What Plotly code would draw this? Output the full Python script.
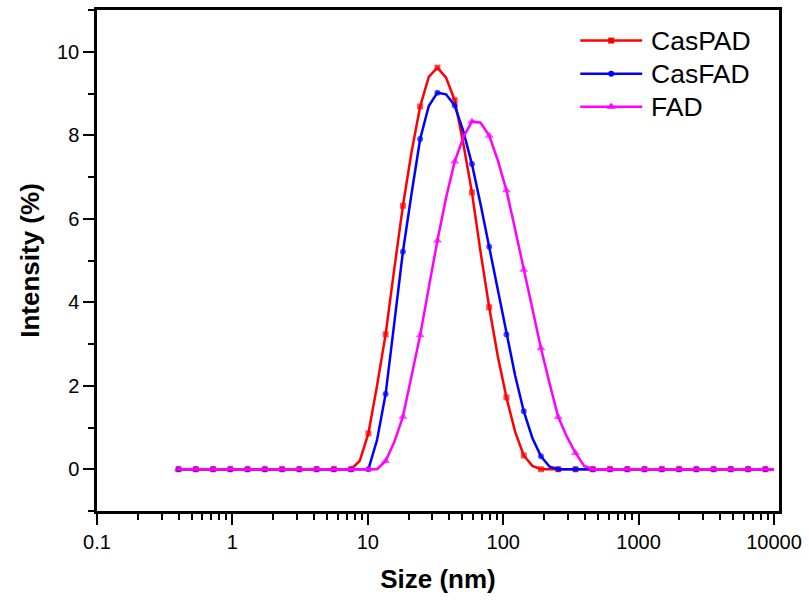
import plotly.graph_objects as go

# Size bins (nm) of the DLS intensity distribution
sizes_nm = [
    0.4, 0.4632, 0.5365, 0.6213, 0.7195, 0.8332, 0.9649, 1.117, 1.294, 1.499,
    1.736, 2.010, 2.328, 2.696, 3.122, 3.615, 4.187, 4.849, 5.615, 6.503,
    7.531, 8.721, 10.10, 11.70, 13.54, 15.69, 18.17, 21.04, 24.36, 28.21,
    32.67, 37.84, 43.82, 50.75, 58.77, 68.06, 78.82, 91.28, 105.7, 122.4,
    141.8, 164.2, 190.1, 220.2, 255.0, 295.3, 342.0, 396.1, 458.7, 531.2,
    615.1, 712.4, 825.0, 955.4, 1106, 1281, 1484, 1718, 1990, 2305,
    2669, 3091, 3580, 4145, 4801, 5560, 6439, 7456, 8635, 10000,
]

# Intensity (%) per bin
caspad = [
    0, 0, 0, 0, 0, 0, 0, 0, 0, 0,
    0, 0, 0, 0, 0, 0, 0, 0, 0, 0,
    0, 0.2, 0.86, 2.0, 3.23, 4.8, 6.31, 7.6, 8.69, 9.4,
    9.62, 9.38, 8.84, 7.8, 6.63, 5.2, 3.88, 2.7, 1.72, 0.9,
    0.33, 0.08, 0, 0, 0, 0, 0, 0, 0, 0,
    0, 0, 0, 0, 0, 0, 0, 0, 0, 0,
    0, 0, 0, 0, 0, 0, 0, 0, 0, 0,
]
casfad = [
    0, 0, 0, 0, 0, 0, 0, 0, 0, 0,
    0, 0, 0, 0, 0, 0, 0, 0, 0, 0,
    0, 0, 0, 0.7, 1.8, 3.5, 5.21, 6.6, 7.91, 8.7,
    9.02, 8.98, 8.71, 8.1, 7.31, 6.35, 5.33, 4.3, 3.23, 2.25,
    1.39, 0.75, 0.31, 0.06, 0, 0, 0, 0, 0, 0,
    0, 0, 0, 0, 0, 0, 0, 0, 0, 0,
    0, 0, 0, 0, 0, 0, 0, 0, 0, 0,
]
fad = [
    0, 0, 0, 0, 0, 0, 0, 0, 0, 0,
    0, 0, 0, 0, 0, 0, 0, 0, 0, 0,
    0, 0, 0, 0, 0.2, 0.65, 1.26, 2.2, 3.21, 4.35,
    5.48, 6.5, 7.37, 7.95, 8.33, 8.3, 7.99, 7.4, 6.68, 5.75,
    4.78, 3.85, 2.9, 2.05, 1.25, 0.78, 0.39, 0.08, 0, 0,
    0, 0, 0, 0, 0, 0, 0, 0, 0, 0,
    0, 0, 0, 0, 0, 0, 0, 0, 0, 0,
]

series_names = ["CasPAD", "CasFAD", "FAD"]
series_values = [caspad, casfad, fad]

x_tick_values = [0.1, 1, 10, 100, 1000, 10000]
x_tick_labels = ["0.1", "1", "10", "100", "1000", "10000"]

# ---- styling ----
FONT = "Arial, 'Liberation Sans', sans-serif"
colors = ["#ff0000", "#0000ff", "#ff00ff"]
symbols = ["square", "circle", "triangle-up"]
marker_sizes = [6, 6, 8]
LINE_W = 2.5

fig = go.Figure()

for name, ys, color, sym, ms in zip(series_names, series_values, colors, symbols, marker_sizes):
    # a marker on every second point
    per_point = [ms if i % 2 == 0 else 0 for i in range(len(ys))]
    fig.add_trace(go.Scatter(
        x=sizes_nm, y=ys, name=name, mode="lines+markers",
        line=dict(color=color, width=LINE_W),
        marker=dict(symbol=sym, size=per_point, color=color, line=dict(width=0)),
        showlegend=False, hoverinfo="skip",
    ))

# Legend keys drawn on an overlay axis spanning the plot area (0..1 in both directions)
key_x0, key_x1, key_xm = 0.7086, 0.7994, 0.754
key_rows = [0.939, 0.873, 0.807]
text_x = 0.8097
for name, color, sym, ms, yk in zip(series_names, colors, symbols, marker_sizes, key_rows):
    fig.add_trace(go.Scatter(
        x=[key_x0, key_x1], y=[yk, yk], mode="lines",
        line=dict(color=color, width=LINE_W),
        xaxis="x2", yaxis="y2", showlegend=False, hoverinfo="skip",
    ))
    fig.add_trace(go.Scatter(
        x=[key_xm], y=[yk], mode="markers",
        marker=dict(symbol=sym, size=ms, color=color, line=dict(width=0)),
        xaxis="x2", yaxis="y2", showlegend=False, hoverinfo="skip",
    ))
    fig.add_annotation(
        x=text_x, y=yk, xref="x2", yref="y2", text=name, showarrow=False,
        xanchor="left", yanchor="middle", font=dict(family=FONT, size=26.5, color="black"),
    )

minor_x = [m * 10 ** e for e in range(-1, 4) for m in range(2, 10)]

axis_common = dict(
    showline=True, linecolor="black", linewidth=LINE_W, mirror=True,
    ticks="outside", ticklen=11, tickwidth=2, tickcolor="black",
    tickfont=dict(family=FONT, size=20, color="black"),
    showgrid=False, zeroline=False,
)

fig.update_layout(
    width=809, height=601,
    margin=dict(l=97, r=29, t=7, b=90, pad=0),
    paper_bgcolor="white", plot_bgcolor="white",
    font=dict(family=FONT, color="black"),
    xaxis=dict(
        type="log", range=[-1, 4.037],
        tickmode="array", tickvals=x_tick_values, ticktext=x_tick_labels,
        minor=dict(ticks="outside", ticklen=6, tickwidth=2, tickcolor="black",
                   tickmode="array", tickvals=minor_x, showgrid=False),
        title=dict(text="<b>Size (nm)</b>", font=dict(family=FONT, size=26, color="black"), standoff=19),
        **axis_common,
    ),
    yaxis=dict(
        range=[-1, 11], tick0=0, dtick=2,
        minor=dict(ticks="outside", ticklen=6, tickwidth=2, tickcolor="black",
                   tick0=0, dtick=1, showgrid=False),
        title=dict(text="<b>Intensity (%)</b>", font=dict(family=FONT, size=26, color="black"), standoff=10),
        **axis_common,
    ),
    xaxis2=dict(overlaying="x", range=[0, 1], visible=False, fixedrange=True),
    yaxis2=dict(overlaying="y", range=[0, 1], visible=False, fixedrange=True),
)

fig.write_html("out.html")
